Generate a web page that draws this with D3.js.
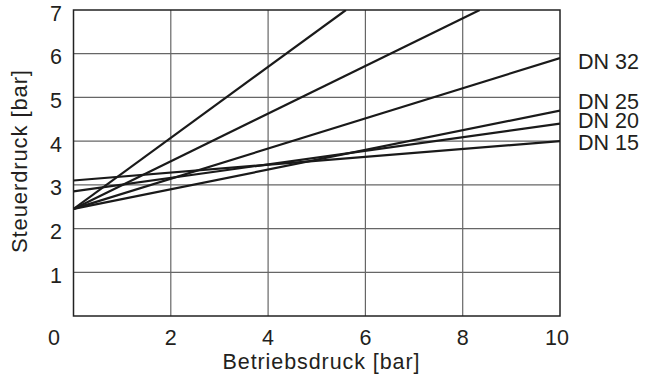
<!DOCTYPE html>
<html>
<head>
<meta charset="utf-8">
<script src="https://cdn.jsdelivr.net/npm/d3@7"></script>
<style>
  body { margin: 0; background: #fff; }
  text { font-family: "Liberation Sans", Arial, Helvetica, sans-serif; fill: #231f20; }
</style>
</head>
<body>
<svg id="main" width="645" height="383"></svg>
<script>
// Betriebsdruck (x) vs. Steuerdruck (y)
var xTicks = [2, 4, 6, 8, 10];
var yTicks = [1, 2, 3, 4, 5, 6, 7];

// each line is a start and end point [Betriebsdruck, Steuerdruck]
var lineSteep = [[0, 2.45], [5.6, 7]];
var lineMid = [[0, 2.45], [8.35, 7]];
var lineDN32 = [[0, 2.45], [10, 5.9]];
var lineDN25 = [[0, 2.45], [10, 4.7]];
var lineDN20 = [[0, 2.85], [10, 4.4]];
var lineDN15 = [[0, 3.1], [10, 4.0]];

var lines = [lineSteep, lineMid, lineDN32, lineDN25, lineDN20, lineDN15];

var labelNames = ["DN 32", "DN 25", "DN 20", "DN 15"];
var labelLines = [lineDN32, lineDN25, lineDN20, lineDN15];
// labels are spread a bit so they don't collide
var labelShift = [3.5, -9.5, -3.5, 1];

const svg = d3.select('svg#main');
const plotLeft = 73.5, plotRight = 560, plotTop = 10, plotBottom = 316;
const fs = 21.5;

var x = d3.scaleLinear().domain([0, 10]).range([plotLeft, plotRight]);
var y = d3.scaleLinear().domain([0, 7]).range([plotBottom, plotTop]);

svg.append('clipPath').attr('id', 'plot')
  .append('rect')
  .attr('x', plotLeft).attr('y', plotTop)
  .attr('width', plotRight - plotLeft).attr('height', plotBottom - plotTop);

// grid
svg.append('g')
  .selectAll('line').data(xTicks.slice(0, -1))
  .join('line')
  .attr('x1', d => x(d)).attr('x2', d => x(d))
  .attr('y1', plotTop).attr('y2', plotBottom)
  .attr('stroke', '#666').attr('stroke-width', 1.2);

svg.append('g')
  .selectAll('line').data(yTicks.slice(0, -1))
  .join('line')
  .attr('x1', plotLeft).attr('x2', plotRight)
  .attr('y1', d => y(d)).attr('y2', d => y(d))
  .attr('stroke', '#666').attr('stroke-width', 1.2);

svg.append('rect')
  .attr('x', plotLeft).attr('y', plotTop)
  .attr('width', plotRight - plotLeft).attr('height', plotBottom - plotTop)
  .attr('fill', 'none').attr('stroke', '#222').attr('stroke-width', 1.5);

// data lines
var lineGen = d3.line().x(d => x(d[0])).y(d => y(d[1]));
svg.append('g').attr('clip-path', 'url(#plot)')
  .selectAll('path').data(lines)
  .join('path')
  .attr('d', lineGen)
  .attr('fill', 'none')
  .attr('stroke', '#1a1a1a')
  .attr('stroke-width', 2.2);

// tick labels
svg.append('g')
  .selectAll('text').data(yTicks)
  .join('text')
  .attr('x', 56).attr('y', d => y(d) + 3)
  .attr('dy', '0.35em')
  .attr('text-anchor', 'middle')
  .attr('font-size', fs)
  .text(d => d);

svg.append('g')
  .selectAll('text').data(xTicks)
  .join('text')
  .attr('x', d => x(d) - (d == 10 ? 3 : 0)).attr('y', 345)
  .attr('text-anchor', 'middle')
  .attr('font-size', fs)
  .text(d => d);

svg.append('text')
  .attr('x', 54).attr('y', 345)
  .attr('text-anchor', 'middle')
  .attr('font-size', fs)
  .text('0');

// axis titles
svg.append('text')
  .attr('x', 321).attr('y', 369)
  .attr('text-anchor', 'middle')
  .attr('font-size', fs)
  .attr('textLength', 197)
  .text('Betriebsdruck [bar]');

svg.append('text')
  .attr('transform', 'translate(27,161.5) rotate(-90)')
  .attr('text-anchor', 'middle')
  .attr('font-size', 22)
  .attr('textLength', 183)
  .text('Steuerdruck [bar]');

// DN labels at the line ends
svg.append('g')
  .selectAll('text').data(labelNames)
  .join('text')
  .attr('x', 578)
  .attr('y', (d, i) => y(labelLines[i][1][1]) + labelShift[i])
  .attr('dy', '0.35em')
  .attr('font-size', fs)
  .text(d => d);
</script>
</body>
</html>
